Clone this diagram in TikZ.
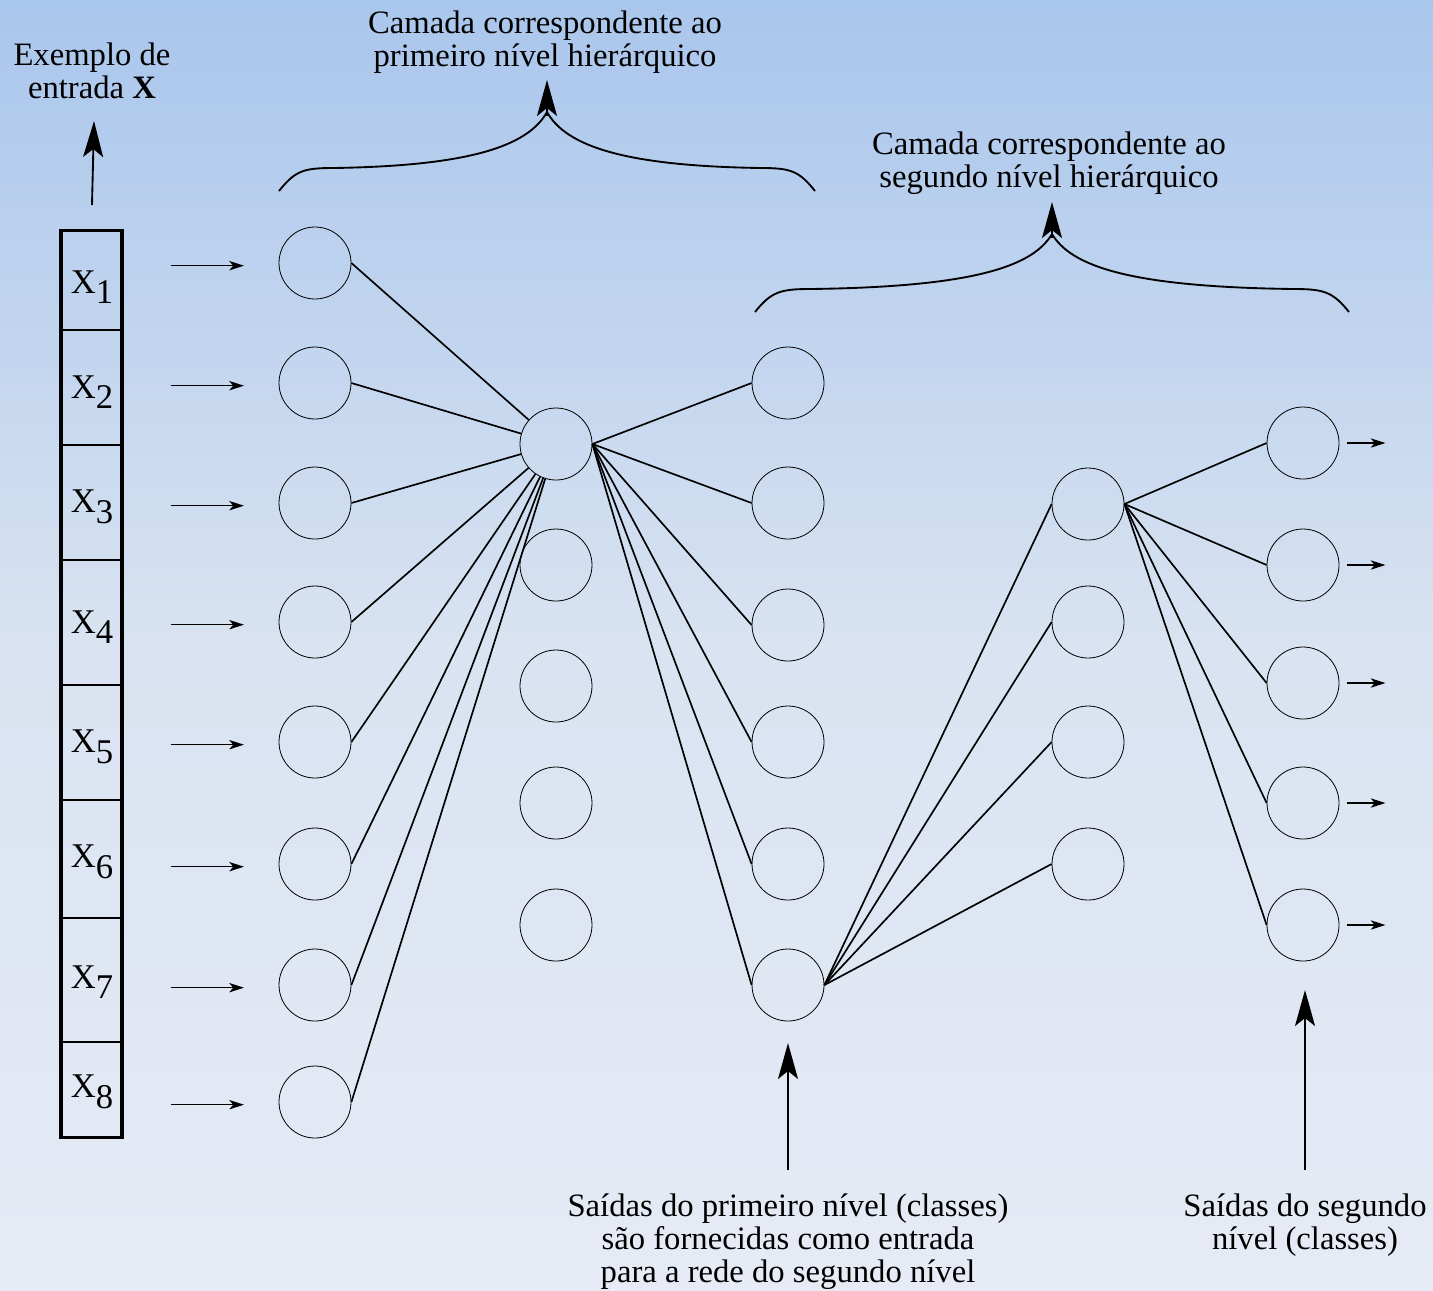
\documentclass[tikz,border=0pt]{standalone}
\usepackage{fontspec}
\setmainfont{Liberation Serif}
\usetikzlibrary{arrows.meta}
\definecolor{bgtop}{HTML}{A9C6EC}
\definecolor{bgmid}{HTML}{D9E3F1}
\definecolor{bgbot}{HTML}{E6EBF5}
\tikzset{
  neuron/.style={circle,draw,line width=0.6pt,minimum size=54pt,inner sep=0pt},
  conn/.style={line width=1.25pt},
  smallarrow/.style={line width=1.2pt,-{Stealth[length=11pt,width=7pt,inset=3pt]}},
  bigarrow/.style={line width=1.4pt,-{Stealth[length=27pt,width=15pt,inset=6pt]}},
  brace/.style={line width=1.4pt},
  lbl/.style={align=center,font=\fontsize{24.5}{24.75}\selectfont,inner sep=0pt},
  xlbl/.style={font=\fontsize{26}{26}\selectfont,inner sep=0pt}
}
\newcommand{\xsub}[1]{X\raisebox{-8pt}{#1}}
\begin{document}
\begin{tikzpicture}[x=0.75pt,y=-0.75pt]
\useasboundingbox (0,0) rectangle (1433,1290);
\shade[top color=bgtop,bottom color=bgmid] (0,0) rectangle (1433,650);
\shade[top color=bgmid,bottom color=bgbot] (0,650) rectangle (1433,1290);

% input vector box
\node (box) [draw,line width=2.6pt,minimum width=45.5pt,minimum height=680pt,inner sep=0pt] at (91.5,684) {};
\foreach \y in {330,445,560,685,800,918,1042}
  \draw[line width=1.1pt] (61,\y) -- (124,\y);
\foreach \i/\y in {1/287,2/392,3/507,4/627,5/747,6/862,7/982,8/1092}
  \node (x\i) [xlbl] at (92,\y) {\xsub{\i}};

\coordinate (ex1) at (92,205);
\coordinate (ex2) at (94,121);
\draw[bigarrow] (ex1) -- (ex2);
\node (lex) [lbl] at (92,71) {Exemplo de\\entrada \textbf{X}};

% neurons
\foreach \i/\y in {1/263,2/383,3/503,4/622,5/742,6/864,7/985,8/1102}
  \node (i\i) [neuron] at (315,\y) {};
\foreach \i/\y in {1/444,2/565,3/686,4/803,5/925}
  \node (h\i) [neuron] at (556,\y) {};
\foreach \i/\y in {1/383,2/503,3/625,4/742,5/864,6/985}
  \node (o\i) [neuron] at (788,\y) {};
\foreach \i/\y in {1/504,2/622,3/742,4/864}
  \node (g\i) [neuron] at (1088,\y) {};
\foreach \i/\y in {1/443,2/565,3/683,4/803,5/925}
  \node (p\i) [neuron] at (1303,\y) {};

% input arrows
\foreach \i in {1,...,8}
  \draw[smallarrow] ([xshift=-81pt,yshift=-2pt]i\i.west) -- ([xshift=-26pt,yshift=-2pt]i\i.west);
% output arrows
\foreach \i in {1,...,5}
  \draw[smallarrow] ([xshift=6pt]p\i.east) -- ([xshift=34.5pt]p\i.east);

% connections
\foreach \i in {1,...,8}
  \draw[conn] (i\i.east) -- (h1);
\foreach \i in {1,...,6}
  \draw[conn] (h1.east) -- (o\i.west);
\foreach \i in {1,...,4}
  \draw[conn] (o6.east) -- (g\i.west);
\foreach \i in {1,...,5}
  \draw[conn] (g1.east) -- (p\i.west);

% brace 1
\draw[brace] (279,191) .. controls (295,171) and (303,168) .. (333,168) .. controls (470,166) and (528,146) .. (547,112);
\draw[brace] (815,191) .. controls (799,171) and (791,168) .. (761,168) .. controls (624,166) and (566,146) .. (547,112);
\coordinate (b1a) at (547,116);
\coordinate (b1b) at (547,80);
\draw[bigarrow] (b1a) -- (b1b);
\node (l1) [lbl] at (545,42) {Camada correspondente ao\\primeiro nível hierárquico};

% brace 2
\draw[brace] (755,312) .. controls (771,292) and (780,289) .. (810,289) .. controls (975,287) and (1033,266) .. (1052,234);
\draw[brace] (1349,312) .. controls (1333,292) and (1324,289) .. (1294,289) .. controls (1129,287) and (1071,266) .. (1052,234);
\coordinate (b2a) at (1052,238);
\coordinate (b2b) at (1052,202);
\draw[bigarrow] (b2a) -- (b2b);
\node (l2) [lbl] at (1049,163) {Camada correspondente ao\\segundo nível hierárquico};

% bottom labels
\coordinate (s1) at (788,1170);
\draw[bigarrow] (s1) -- (o6.south |- 0,1043);
\node (l3) [lbl] at (788,1242) {Saídas do primeiro nível (classes)\\são fornecidas como entrada\\para a rede do segundo nível};
\coordinate (s2) at (1305,1170);
\draw[bigarrow] (s2) -- (1305,990);
\node (l4) [lbl] at (1305,1225) {Saídas do segundo\\nível (classes)};
\end{tikzpicture}
\end{document}
